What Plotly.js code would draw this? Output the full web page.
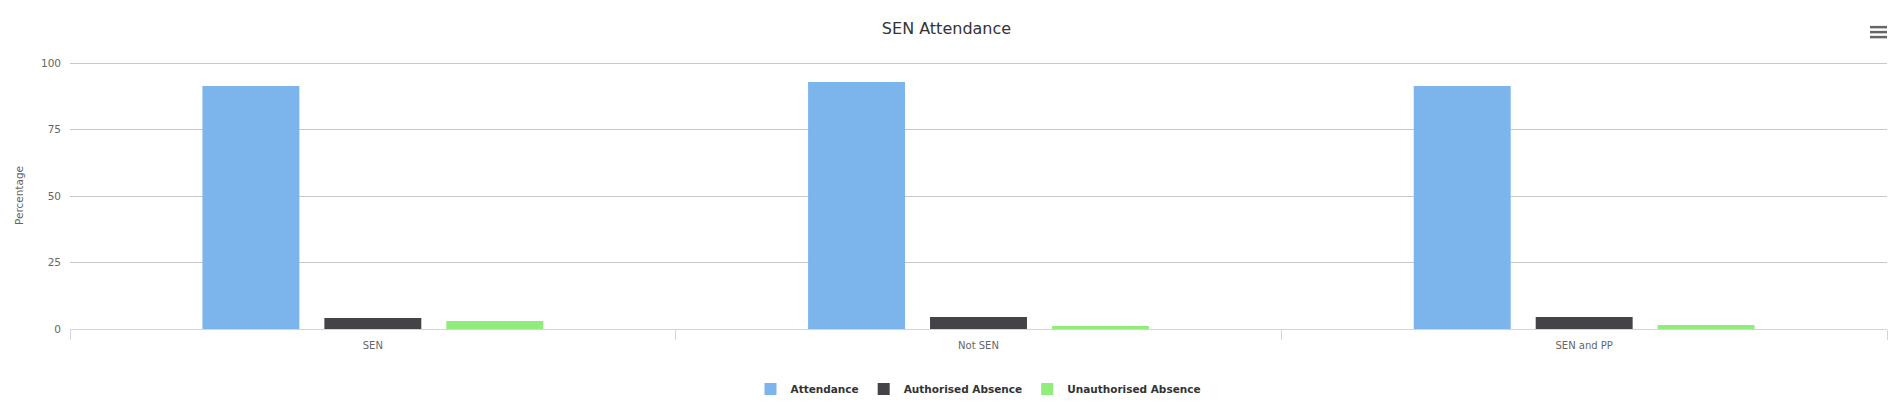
<!DOCTYPE html>
<html>
<head>
<meta charset="utf-8">
<script src="https://cdn.plot.ly/plotly-3.0.1.min.js"></script>
<style>
html,body{margin:0;padding:0;background:#fff;}
#chart{width:1893px;height:408px;}
</style>
</head>
<body>
<div id="chart"></div>
<script>
const categories = ["SEN", "Not SEN", "SEN and PP"];
const attendance = [91.4, 92.9, 91.4];
const authorisedAbsence = [4.1, 4.5, 4.5];
const unauthorisedAbsence = [3.0, 1.1, 1.5];
const yTickValues = [0, 25, 50, 75, 100];

const seriesNames = ["Attendance", "Authorised Absence", "Unauthorised Absence"];
const seriesColors = ["#7cb5ec", "#434348", "#90ed7d"];
const seriesValues = [attendance, authorisedAbsence, unauthorisedAbsence];

const traces = seriesValues.map((vals, i) => ({
  type: "bar",
  name: seriesNames[i],
  x: categories,
  y: vals,
  marker: {color: seriesColors[i], line: {width: 0}},
  hoverinfo: "x+y+name"
}));

const font = "DejaVu Sans, Verdana, Arial, sans-serif";
const plotTop = 62, plotBottom = 330, plotH = plotBottom - plotTop;

const layout = {
  width: 1893,
  height: 408,
  margin: {l: 70, r: 6, t: plotTop, b: 408 - plotBottom},
  paper_bgcolor: "#ffffff",
  plot_bgcolor: "#ffffff",
  barmode: "group",
  bargap: 0.396,
  bargroupgap: 0.205,
  title: {
    text: "SEN Attendance",
    font: {family: font, size: 16, color: "#333333"},
    x: 0.5, xanchor: "center",
    y: 1 - 28/408, yanchor: "middle"
  },
  xaxis: {
    type: "category",
    tickson: "boundaries",
    ticks: "outside",
    ticklen: 10,
    tickcolor: "#ccd6eb",
    tickwidth: 1,
    showline: true,
    linecolor: "#ccd6eb",
    linewidth: 1,
    showgrid: false,
    zeroline: false,
    ticklabelstandoff: 7,
    tickfont: {family: font, size: 10, color: "#666666"},
    fixedrange: true
  },
  yaxis: {
    range: [0, 100.4],
    tickvals: yTickValues,
    ticktext: yTickValues.map(String),
    showgrid: true,
    gridcolor: "#c8c8c8",
    gridwidth: 1,
    zeroline: false,
    showline: false,
    ticks: "",
    ticklabelstandoff: 8,
    tickfont: {family: font, size: 10.5, color: "#666666"},
    title: {text: "Percentage", font: {family: font, size: 10.5, color: "#666666"}, standoff: 15},
    automargin: false,
    fixedrange: true
  },
  legend: {
    orientation: "h",
    x: 0.5, xanchor: "center",
    y: (plotBottom - 389) / plotH, yanchor: "middle",
    font: {family: font, size: 10.5, color: "#333333", weight: "bold"},
    itemwidth: 30,
    traceorder: "normal"
  },
  shapes: [0, 1, 2].map(k => ({
    type: "line",
    xref: "paper", yref: "paper",
    x0: (1870 - 70) / (1893 - 76), x1: (1887 - 70) / (1893 - 76),
    y0: (plotBottom - (27 + 5 * k)) / plotH, y1: (plotBottom - (27 + 5 * k)) / plotH,
    line: {color: "#666666", width: 2.5}
  }))
};

Plotly.newPlot("chart", traces, layout, {displayModeBar: false, responsive: false});
</script>
</body>
</html>
